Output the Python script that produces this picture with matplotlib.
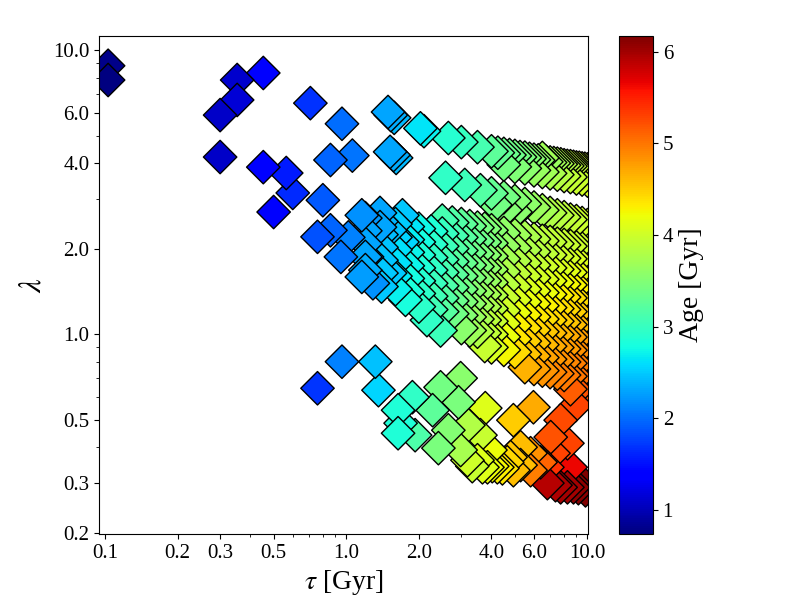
import numpy as np
import matplotlib
matplotlib.use('Agg')
import matplotlib.pyplot as plt
from matplotlib.ticker import FormatStrFormatter, NullFormatter

plt.rcParams['font.family'] = ['Liberation Serif', 'DejaVu Serif']
plt.rcParams['mathtext.fontset'] = 'stix'

# ---- young, isolated models (upper left) ----
tau_a = [0.103, 0.103, 0.353, 0.453, 0.353, 0.30, 0.71, 0.96, 0.30, 0.453,
         0.564, 0.60, 0.50, 0.80, 0.86, 1.06, 0.76, 0.86, 0.95, 1.02,
         1.16, 1.22, 1.16, 1.29, 1.38, 1.38, 1.52, 1.71, 1.71, 1.52,
         1.76, 2.16, 2.46]
lam_a = [8.8, 7.84, 7.84, 8.3, 6.67, 5.9, 6.5, 5.5, 4.2, 3.87,
         3.69, 3.14, 2.69, 2.96, 4.1, 4.25, 2.2, 2.32, 1.87, 2.19,
         2.62, 1.87, 1.59, 1.51, 2.67, 2.38, 2.32, 2.62, 2.11, 1.64,
         1.32, 1.12, 1.03]
age_a = [0.80, 0.76, 1.12, 1.34, 1.15, 1.10, 1.69, 2.0, 1.10, 1.34,
         1.55, 1.65, 1.38, 1.9, 1.95, 2.05, 1.85, 1.95, 2.05, 2.1,
         2.2, 2.2, 2.25, 2.2, 2.3, 2.3, 2.45, 2.5, 2.55, 2.5,
         2.8, 2.95, 3.05]

# stacked triplets
tau_s = [1.49, 1.53, 1.58, 1.52, 1.57, 1.61, 2.03, 2.10]
lam_s = [6.05, 5.9, 5.77, 4.38, 4.27, 4.17, 5.3, 5.18]
age_s = [2.3, 2.35, 2.4, 2.3, 2.35, 2.4, 2.64, 2.7]

# small blue clump at low lambda
tau_lb = [0.76, 0.96, 1.32, 1.36]
lam_lb = [0.645, 0.80, 0.80, 0.635]
age_lb = [1.7, 2.1, 2.45, 2.55]

# ---- top streak ----
tau_b1 = [2.65, 3.0, 3.5, 4.0, 4.25, 4.5, 4.75, 5.0, 5.25, 5.5, 5.75, 6.0, 6.25, 6.5,
          6.75, 7.0, 7.25, 7.5, 7.75, 8.0, 8.25, 8.5, 8.75, 9.0, 9.25, 9.5, 9.75, 10.0]
lam_b1 = [4.90, 4.74, 4.55, 4.40, 4.35, 4.31, 4.27, 4.24, 4.20, 4.18, 4.14, 4.11, 4.09, 4.17,
          4.04, 4.02, 4.00, 3.98, 3.96, 3.93, 3.91, 3.90, 3.88, 3.86, 3.85, 3.83, 3.82, 3.80]
age_b1 = [2.9, 3.0, 3.1, 3.25, 3.3, 3.33, 3.37, 3.4, 3.44, 3.48, 3.52, 3.56, 3.6, 3.7,
          3.66, 3.7, 3.73, 3.76, 3.8, 3.83, 3.86, 3.89, 3.92, 3.95, 3.97, 4.0, 4.02, 4.04]

tau_b2 = [4.5, 5.0, 5.5, 6.0, 6.5, 7.0, 7.5, 8.0, 8.5, 9.0, 9.5, 10.0]
lam_b2 = [3.95, 3.88, 3.83, 3.77, 3.72, 3.68, 3.64, 3.60, 3.57, 3.53, 3.50, 3.47]
age_b2 = [3.4, 3.48, 3.56, 3.63, 3.7, 3.76, 3.82, 3.88, 3.93, 3.98, 4.02, 4.06]

# ---- second streak ----
tau_c = [2.58, 3.1, 3.6, 4.0, 4.5, 5.0, 5.5, 6.0, 6.5, 7.0, 7.5, 8.0, 8.5, 9.0, 9.5, 10.0,
         4.15, 4.57, 5.03]
lam_c = [3.55, 3.35, 3.21, 3.13, 3.03, 2.94, 2.87, 2.79, 2.73, 2.67, 2.62, 2.58, 2.53, 2.50, 2.46, 2.42,
         2.85, 2.73, 2.69]
age_c = [2.95, 3.05, 3.2, 3.3, 3.4, 3.5, 3.58, 3.66, 3.72, 3.8, 3.85, 3.9, 3.94, 3.98, 4.02, 4.05,
         3.4, 3.5, 3.55]

# ---- main mass, rows share the tau grid (right aligned) ----
tau_grid = [1.2, 1.4, 1.6, 1.8, 2.0, 2.25, 2.5, 2.75, 3.0, 3.25, 3.5, 3.75, 4.0,
            4.5, 5.0, 5.5, 6.0, 6.5, 7.0, 7.5, 8.0, 8.5, 9.0, 9.5, 10.0]

lam_r0 = [2.51, 2.47, 2.44, 2.40, 2.37, 2.35, 2.32, 2.27, 2.23, 2.20, 2.16, 2.13, 2.11, 2.08, 2.06, 2.04, 2.02, 2.00, 1.98]
age_r0 = [3.1, 3.17, 3.26, 3.34, 3.42, 3.48, 3.52, 3.6, 3.68, 3.77, 3.85, 3.9, 3.92, 3.93, 3.95, 3.97, 3.98, 3.99, 4.0]
lam_r1 = [2.56, 2.49, 2.44, 2.39, 2.35, 2.30, 2.26, 2.22, 2.19, 2.16, 2.13, 2.11, 2.09, 2.04, 2.01, 1.98, 1.95, 1.92, 1.90, 1.88, 1.85, 1.84, 1.82, 1.80, 1.79]
age_r1 = [2.24, 2.38, 2.51, 2.63, 2.74, 2.86, 2.99, 3.11, 3.21, 3.29, 3.37, 3.44, 3.51, 3.61, 3.70, 3.78, 3.84, 3.89, 3.95, 3.99, 4.02, 4.05, 4.08, 4.11, 4.13]
lam_r2 = [2.31, 2.24, 2.19, 2.15, 2.11, 2.07, 2.04, 2.00, 1.97, 1.94, 1.92, 1.90, 1.88, 1.84, 1.81, 1.78, 1.75, 1.73, 1.71, 1.69, 1.67, 1.65, 1.64, 1.62, 1.61]
age_r2 = [2.29, 2.43, 2.56, 2.68, 2.79, 2.91, 3.04, 3.16, 3.26, 3.35, 3.44, 3.52, 3.61, 3.71, 3.80, 3.88, 3.94, 3.99, 4.05, 4.09, 4.12, 4.15, 4.18, 4.21, 4.23]
lam_r3 = [2.08, 2.02, 1.98, 1.94, 1.90, 1.86, 1.83, 1.80, 1.78, 1.75, 1.73, 1.71, 1.69, 1.66, 1.63, 1.60, 1.58, 1.56, 1.54, 1.52, 1.50, 1.49, 1.47, 1.46, 1.45]
age_r3 = [2.29, 2.46, 2.61, 2.73, 2.84, 2.96, 3.09, 3.21, 3.31, 3.40, 3.49, 3.58, 3.66, 3.78, 3.89, 3.98, 4.04, 4.09, 4.15, 4.20, 4.24, 4.28, 4.32, 4.36, 4.38]
lam_r4 = [1.87, 1.82, 1.78, 1.74, 1.71, 1.68, 1.65, 1.62, 1.60, 1.58, 1.56, 1.54, 1.52, 1.49, 1.47, 1.44, 1.42, 1.40, 1.38, 1.37, 1.35, 1.34, 1.32, 1.31, 1.30]
age_r4 = [2.29, 2.46, 2.61, 2.73, 2.84, 2.96, 3.10, 3.24, 3.36, 3.46, 3.55, 3.63, 3.71, 3.85, 3.98, 4.08, 4.14, 4.19, 4.25, 4.30, 4.35, 4.39, 4.42, 4.46, 4.48]
lam_r5 = [1.68, 1.64, 1.60, 1.57, 1.54, 1.51, 1.48, 1.46, 1.44, 1.42, 1.40, 1.38, 1.37, 1.34, 1.32, 1.30, 1.28, 1.26, 1.24, 1.23, 1.22, 1.20, 1.19, 1.18, 1.17]
age_r5 = [2.34, 2.50, 2.66, 2.78, 2.89, 3.01, 3.15, 3.29, 3.41, 3.53, 3.63, 3.72, 3.81, 3.96, 4.08, 4.18, 4.24, 4.29, 4.35, 4.40, 4.45, 4.49, 4.52, 4.56, 4.58]
lam_r6 = [1.47, 1.44, 1.41, 1.39, 1.36, 1.34, 1.31, 1.30, 1.28, 1.26, 1.25, 1.23, 1.21, 1.19, 1.17, 1.15, 1.13, 1.12, 1.11, 1.10, 1.08, 1.07, 1.06, 1.055]
age_r6 = [2.5, 2.7, 2.83, 2.94, 3.06, 3.2, 3.34, 3.46, 3.57, 3.68, 3.77, 3.86, 4.02, 4.18, 4.28, 4.34, 4.39, 4.45, 4.5, 4.54, 4.59, 4.62, 4.66, 4.68]
lam_r7 = [1.25, 1.22, 1.20, 1.18, 1.165, 1.15, 1.13, 1.12, 1.11, 1.09, 1.07, 1.05, 1.035, 1.02, 1.01, 0.997, 0.986, 0.976, 0.966, 0.958, 0.949]
age_r7 = [2.94, 3.06, 3.22, 3.38, 3.51, 3.63, 3.75, 3.87, 3.96, 4.13, 4.29, 4.38, 4.46, 4.52, 4.6, 4.64, 4.69, 4.74, 4.78, 4.81, 4.83]
lam_r8 = [1.05, 1.03, 1.02, 1.01, 0.998, 0.978, 0.961, 0.945, 0.931, 0.918, 0.907, 0.897, 0.887, 0.878, 0.869, 0.861, 0.854]
age_r8 = [3.56, 3.67, 3.8, 3.9, 4.01, 4.18, 4.36, 4.48, 4.55, 4.62, 4.7, 4.75, 4.79, 4.84, 4.88, 4.91, 4.93]
lam_r9 = [0.908, 0.898, 0.880, 0.865, 0.850, 0.838, 0.827, 0.816, 0.807, 0.798, 0.790, 0.782, 0.775, 0.769]
age_r9 = [3.95, 4.06, 4.25, 4.43, 4.55, 4.65, 4.73, 4.8, 4.85, 4.9, 4.94, 4.98, 5.01, 5.03]
lam_r10 = [0.765, 0.754, 0.744, 0.735, 0.726, 0.718, 0.711, 0.704, 0.698, 0.692]
age_r10 = [4.65, 4.75, 4.83, 4.9, 4.95, 4.98, 5.0, 5.03, 5.05, 5.07]
lam_r11 = [0.640, 0.634, 0.628, 0.623]
age_r11 = [5.15, 5.2, 5.22, 5.25]

# ---- lower group (low lambda) ----
tau_lg = [2.98, 2.46, 1.88, 1.64, 2.28, 2.92, 1.68, 1.64, 1.93, 2.65, 2.41, 3.77, 3.21, 3.60, 2.98,
          3.96, 3.50, 3.18, 3.85, 4.23, 4.93, 5.97, 5.28, 4.80, 5.81, 4.93, 5.81, 7.74, 7.04, 8.26,
          7.23, 6.82, 8.52, 6.82, 8.26, 9.37, 3.33, 3.67, 4.03, 4.44, 4.65, 5.28, 6.39, 7.37, 7.74,
          8.75, 9.17, 9.81, 9.08, 9.6, 8.93]
lam_lg = [0.70, 0.65, 0.60, 0.54, 0.54, 0.576, 0.486, 0.448, 0.441, 0.459, 0.397, 0.549, 0.478, 0.441, 0.391,
          0.391, 0.360, 0.360, 0.340, 0.340, 0.498, 0.553, 0.400, 0.369, 0.381, 0.332, 0.332, 0.498, 0.434, 0.413,
          0.381, 0.340, 0.340, 0.299, 0.289, 0.306, 0.343, 0.340, 0.343, 0.337, 0.354, 0.346, 0.354, 0.294, 0.289,
          0.289, 0.287, 0.282, 0.729, 0.635, 0.562]
age_lg = [3.55, 3.4, 2.95, 2.85, 3.25, 3.45, 2.85, 2.85, 3.15, 3.5, 3.45, 4.1, 3.8, 3.95, 3.75,
          4.2, 4.1, 4.0, 4.2, 4.3, 4.5, 4.7, 4.6, 4.55, 4.85, 4.6, 4.95, 5.25, 5.2, 5.3,
          5.3, 5.4, 5.65, 5.9, 6.0, 6.15, 3.95, 4.1, 4.25, 4.35, 4.45, 4.6, 5.1, 5.95, 6.0,
          6.1, 6.12, 6.15, 5.15, 5.25, 5.3]

xticks = [0.1, 0.2, 0.3, 0.5, 1.0, 2.0, 4.0, 6.0, 10.0]
yticks = [0.2, 0.3, 0.5, 1.0, 2.0, 4.0, 6.0, 10.0]
cticks = [1, 2, 3, 4, 5, 6]

# collect everything
rows = [(lam_r0, age_r0), (lam_r1, age_r1), (lam_r2, age_r2), (lam_r3, age_r3),
        (lam_r4, age_r4), (lam_r5, age_r5), (lam_r6, age_r6), (lam_r7, age_r7),
        (lam_r8, age_r8), (lam_r9, age_r9), (lam_r10, age_r10), (lam_r11, age_r11)]
tau_all = tau_a + tau_s + tau_lb + tau_b1 + tau_b2 + tau_c + tau_lg
lam_all = lam_a + lam_s + lam_lb + lam_b1 + lam_b2 + lam_c + lam_lg
age_all = age_a + age_s + age_lb + age_b1 + age_b2 + age_c + age_lg
for l, a in rows:
    tau_all += tau_grid[len(tau_grid) - len(l):]
    lam_all += l
    age_all += a

tau = np.array(tau_all)
lam = np.array(lam_all)
age = np.array(age_all)
order = np.argsort(-tau, kind='stable')   # small tau drawn last (on top)

fig = plt.figure(figsize=(7.9, 6), dpi=100)
ax = fig.add_axes([0.1253, 0.11, 0.619, 0.83])
cax = fig.add_axes([0.7835, 0.11, 0.043, 0.83])

sc = ax.scatter(tau[order], lam[order], c=age[order], cmap='jet', vmin=0.74, vmax=6.17,
                marker='D', s=290, edgecolors='k', linewidths=1.0)

ax.set_xscale('log')
ax.set_yscale('log')
ax.set_xlim(0.0944, 10.05)
ax.set_ylim(0.198, 11.2)
ax.set_xticks(xticks)
ax.set_yticks(yticks)
ax.xaxis.set_major_formatter(FormatStrFormatter('%.1f'))
ax.yaxis.set_major_formatter(FormatStrFormatter('%.1f'))
ax.xaxis.set_minor_formatter(NullFormatter())
ax.yaxis.set_minor_formatter(NullFormatter())
ax.tick_params(labelsize=15)
ax.set_xlabel(r'$\tau$ [Gyr]', fontsize=20)
ax.set_ylabel(r'$\lambda$', fontsize=22)

cb = fig.colorbar(sc, cax=cax, ticks=cticks)
cb.ax.tick_params(labelsize=15)
cb.set_label('Age [Gyr]', fontsize=20)

fig.savefig('out.png', dpi=100)
